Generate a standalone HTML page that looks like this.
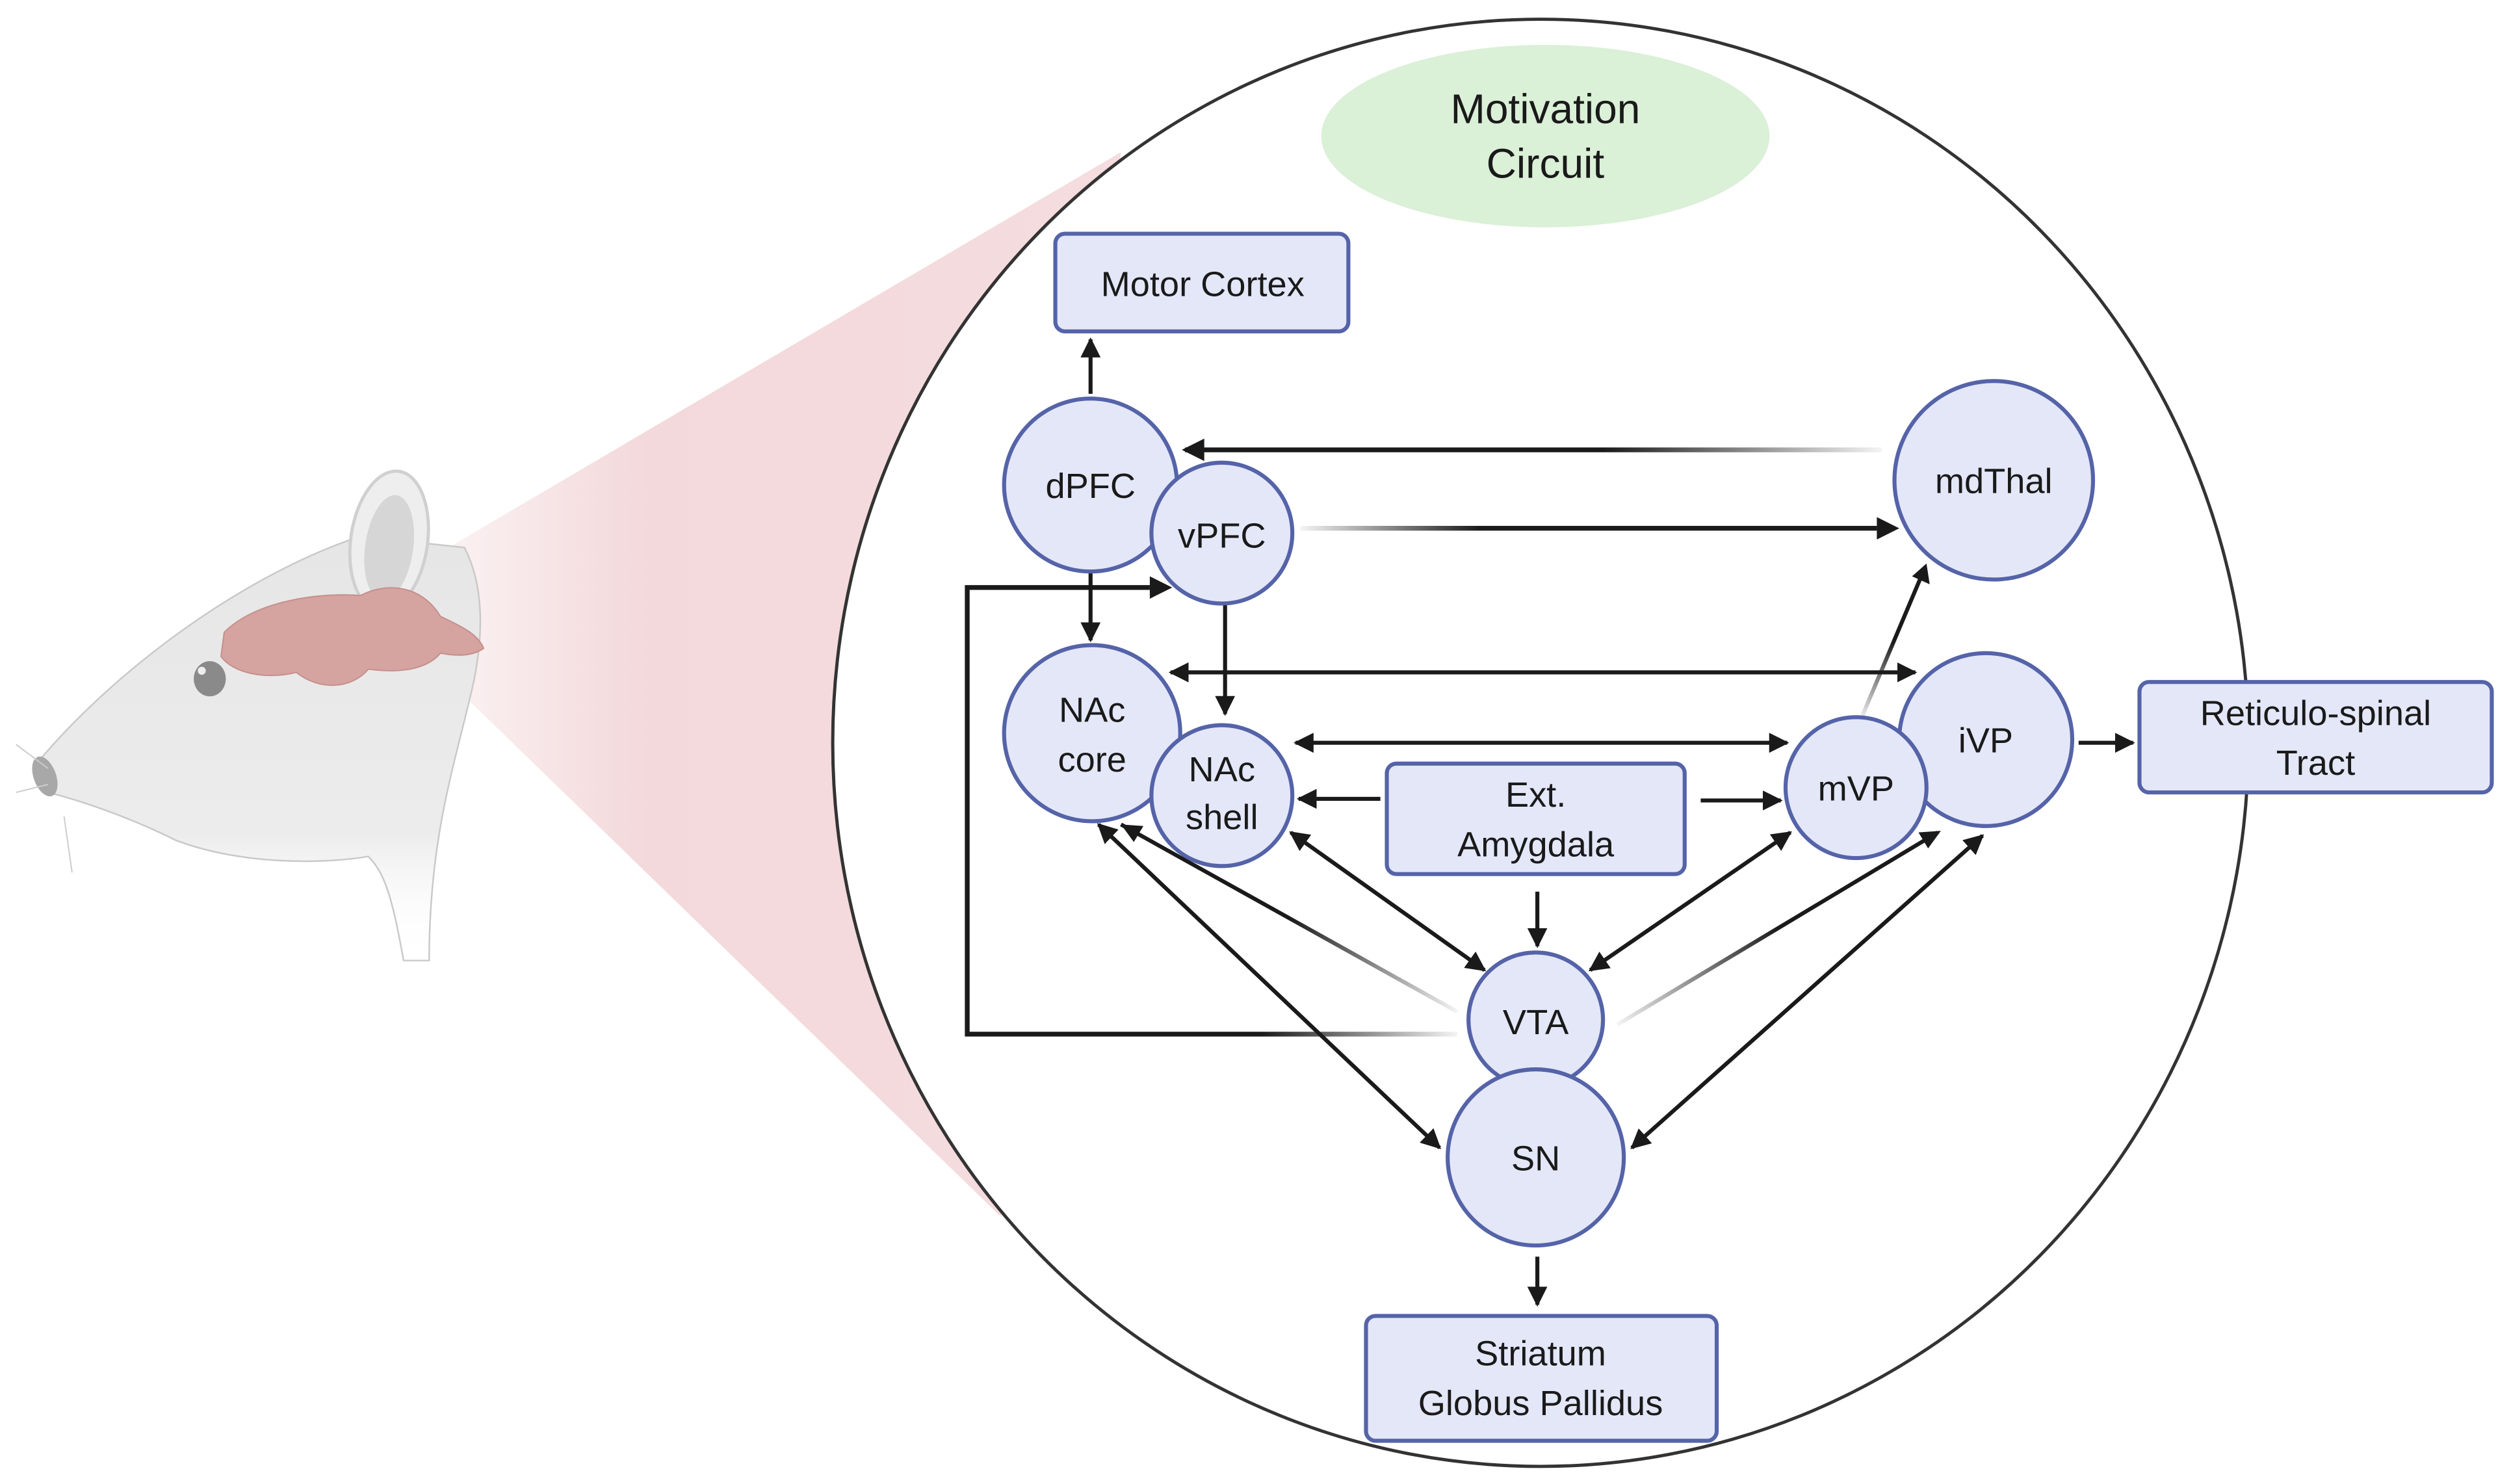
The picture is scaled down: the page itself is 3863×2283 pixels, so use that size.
<!DOCTYPE html>
<html><head><meta charset="utf-8"><style>
html,body{margin:0;padding:0;background:#fff;overflow:hidden}
svg{display:block}
text{font-family:"Liberation Sans",Arial,sans-serif;fill:#1a1a1a;text-anchor:middle}
</style></head><body>
<svg width="3863" height="2283" viewBox="0 0 1568 927" preserveAspectRatio="none" xmlns="http://www.w3.org/2000/svg">
<defs>
<marker id="a" viewBox="0 0 10 10" refX="9" refY="5" markerWidth="5" markerHeight="5" orient="auto-start-reverse" markerUnits="strokeWidth">
<path d="M0,0 L10,5 L0,10 z" fill="#1a1a1a"/></marker>
<linearGradient id="cone" x1="0" y1="0" x2="1" y2="0">
<stop offset="0" stop-color="#f3d6d8" stop-opacity="0.3"/><stop offset="0.3" stop-color="#f3d9db"/><stop offset="1" stop-color="#f5dcde"/></linearGradient>
<linearGradient id="head" x1="0" y1="0" x2="0" y2="1">
<stop offset="0" stop-color="#e6e6e6"/><stop offset="0.7" stop-color="#ececec"/><stop offset="1" stop-color="#fff" stop-opacity="0"/></linearGradient>
<linearGradient id="g1" gradientUnits="userSpaceOnUse" x1="740" y1="0" x2="1175" y2="0">
<stop offset="0.6" stop-color="#1a1a1a"/><stop offset="1" stop-color="#1a1a1a" stop-opacity="0.05"/></linearGradient>
<linearGradient id="g2" gradientUnits="userSpaceOnUse" x1="812" y1="0" x2="1185" y2="0">
<stop offset="0" stop-color="#1a1a1a" stop-opacity="0.05"/><stop offset="0.3" stop-color="#1a1a1a"/></linearGradient>
<linearGradient id="g3" gradientUnits="userSpaceOnUse" x1="604" y1="0" x2="910" y2="0">
<stop offset="0.6" stop-color="#1a1a1a"/><stop offset="1" stop-color="#1a1a1a" stop-opacity="0.05"/></linearGradient>
<linearGradient id="g4" gradientUnits="userSpaceOnUse" x1="700" y1="515" x2="910" y2="632">
<stop offset="0.5" stop-color="#1a1a1a"/><stop offset="1" stop-color="#1a1a1a" stop-opacity="0.05"/></linearGradient>
<linearGradient id="g5" gradientUnits="userSpaceOnUse" x1="1210" y1="520" x2="1010" y2="640">
<stop offset="0.5" stop-color="#1a1a1a"/><stop offset="1" stop-color="#1a1a1a" stop-opacity="0.05"/></linearGradient>
<linearGradient id="g6" gradientUnits="userSpaceOnUse" x1="1163" y1="447" x2="1203" y2="354">
<stop offset="0" stop-color="#1a1a1a" stop-opacity="0.1"/><stop offset="0.5" stop-color="#1a1a1a"/></linearGradient>
</defs>
<!-- cone -->
<polygon points="275,345 700,95 625,760 285,430" fill="url(#cone)"/>
<!-- mouse -->
<path d="M22,478 C70,420 150,360 225,335 L290,342 C302,365 302,395 296,425 C285,475 268,520 268,600 L252,600 C245,560 240,545 230,535 C200,540 150,540 110,525 C80,510 50,500 30,495 Z" fill="url(#head)" stroke="#c9c9c9" stroke-width="1"/>
<ellipse cx="243" cy="338" rx="24" ry="44" transform="rotate(8 243 338)" fill="#eeeeee" stroke="#d0d0d0" stroke-width="2"/>
<ellipse cx="243" cy="342" rx="15" ry="33" transform="rotate(8 243 342)" fill="#d6d6d6"/>
<path d="M140,395 C160,375 200,370 225,372 C245,362 265,368 275,385 C285,390 298,395 302,405 C295,410 285,410 275,408 C265,420 245,420 230,418 C220,430 200,432 185,420 C165,425 145,420 138,410 Z" fill="#d5a3a0" stroke="#c48f8c" stroke-width="0.8"/>
<ellipse cx="131" cy="424" rx="10" ry="11" fill="#8a8a8a"/>
<circle cx="126" cy="419" r="2.5" fill="#eee"/>
<ellipse cx="28" cy="485" rx="7" ry="13" transform="rotate(-20 28 485)" fill="#a8a8a8"/>
<path d="M10,465 L30,480 M10,495 L30,490 M40,510 L45,545" stroke="#ccc" stroke-width="0.8" fill="none"/>
<!-- big circle -->
<ellipse cx="962" cy="464" rx="442" ry="452" fill="#fff" stroke="#333" stroke-width="2"/>
<!-- motivation -->
<ellipse cx="965" cy="85" rx="140" ry="57" fill="#daf0d7"/>
<text x="965" y="77" font-size="26">Motivation</text>
<text x="965" y="111" font-size="26">Circuit</text>
<!-- connectors -->
<g stroke="#1a1a1a" stroke-width="2.5" fill="none">
<line x1="681" y1="246" x2="681" y2="212" marker-end="url(#a)"/>
<line x1="1175" y1="281" x2="740" y2="281" stroke="url(#g1)" stroke-width="3"/>
<path d="M752,274 L738,281 L752,288 Z" fill="#1a1a1a" stroke="none"/>
<line x1="812" y1="330" x2="1172" y2="330" stroke="url(#g2)" stroke-width="3"/>
<path d="M1172,323 L1186,330 L1172,337 Z" fill="#1a1a1a" stroke="none"/>
<path d="M910,646 L604,646 L604,367 L718,367" stroke="url(#g3)" stroke-width="3"/>
<path d="M718,360 L732,367 L718,374 Z" fill="#1a1a1a" stroke="none"/>
<line x1="681" y1="358" x2="681" y2="400" marker-end="url(#a)"/>
<line x1="765" y1="378" x2="765" y2="446" marker-end="url(#a)"/>
<line x1="731" y1="420" x2="1196" y2="420" marker-start="url(#a)" marker-end="url(#a)"/>
<line x1="809" y1="464" x2="1116" y2="464" marker-start="url(#a)" marker-end="url(#a)"/>
<line x1="862" y1="499" x2="811" y2="499" marker-end="url(#a)"/>
<line x1="1062" y1="500" x2="1112" y2="500" marker-end="url(#a)"/>
<line x1="960" y1="557" x2="960" y2="591" marker-end="url(#a)"/>
<line x1="1163" y1="447" x2="1201" y2="357" stroke="url(#g6)"/>
<path d="M1194,360 L1203,352 L1205,365 Z" fill="#1a1a1a" stroke="none"/>
<line x1="1298" y1="464" x2="1332" y2="464" marker-end="url(#a)"/>
<line x1="910" y1="632" x2="700" y2="515" stroke="url(#g4)"/>
<path d="M700,515 L714,516 L708,526 Z" fill="#1a1a1a" stroke="none"/>
<line x1="686" y1="515" x2="899" y2="717" marker-start="url(#a)" marker-end="url(#a)"/>
<line x1="806" y1="520" x2="927" y2="606" marker-start="url(#a)" marker-end="url(#a)"/>
<line x1="1118" y1="520" x2="993" y2="606" marker-start="url(#a)" marker-end="url(#a)"/>
<line x1="1010" y1="640" x2="1210" y2="520" stroke="url(#g5)"/>
<path d="M1212,519 L1204,530 L1198,520 Z" fill="#1a1a1a" stroke="none"/>
<line x1="1238" y1="522" x2="1019" y2="717" marker-start="url(#a)" marker-end="url(#a)"/>
<line x1="960" y1="785" x2="960" y2="815" marker-end="url(#a)"/>
</g>
<!-- nodes -->
<g fill="#e3e7f8" stroke="#5563a8" stroke-width="2.5">
<rect x="659" y="146" width="183" height="61" rx="6"/>
<circle cx="681" cy="303" r="54"/>
<circle cx="763" cy="333" r="44"/>
<circle cx="1245" cy="300" r="62"/>
<circle cx="682" cy="458" r="55"/>
<circle cx="763" cy="497" r="44"/>
<rect x="866" y="477" width="186" height="69" rx="6"/>
<circle cx="1240" cy="462" r="54"/>
<circle cx="1159" cy="492" r="44"/>
<rect x="1336" y="426" width="220" height="69" rx="6"/>
<circle cx="959" cy="637" r="42"/>
<circle cx="959" cy="723" r="55"/>
<rect x="853" y="822" width="219" height="78" rx="6"/>
</g>
<g font-size="22">
<text x="751" y="185">Motor Cortex</text>
<text x="681" y="311">dPFC</text>
<text x="763" y="342">vPFC</text>
<text x="1245" y="308">mdThal</text>
<text x="682" y="451">NAc</text>
<text x="682" y="482">core</text>
<text x="763" y="488">NAc</text>
<text x="763" y="518">shell</text>
<text x="959" y="504">Ext.</text>
<text x="959" y="535">Amygdala</text>
<text x="1240" y="470">iVP</text>
<text x="1159" y="500">mVP</text>
<text x="1446" y="453">Reticulo-spinal</text>
<text x="1446" y="484">Tract</text>
<text x="959" y="646">VTA</text>
<text x="959" y="731">SN</text>
<text x="962" y="853">Striatum</text>
<text x="962" y="884">Globus Pallidus</text>
</g>
</svg>
</body></html>
